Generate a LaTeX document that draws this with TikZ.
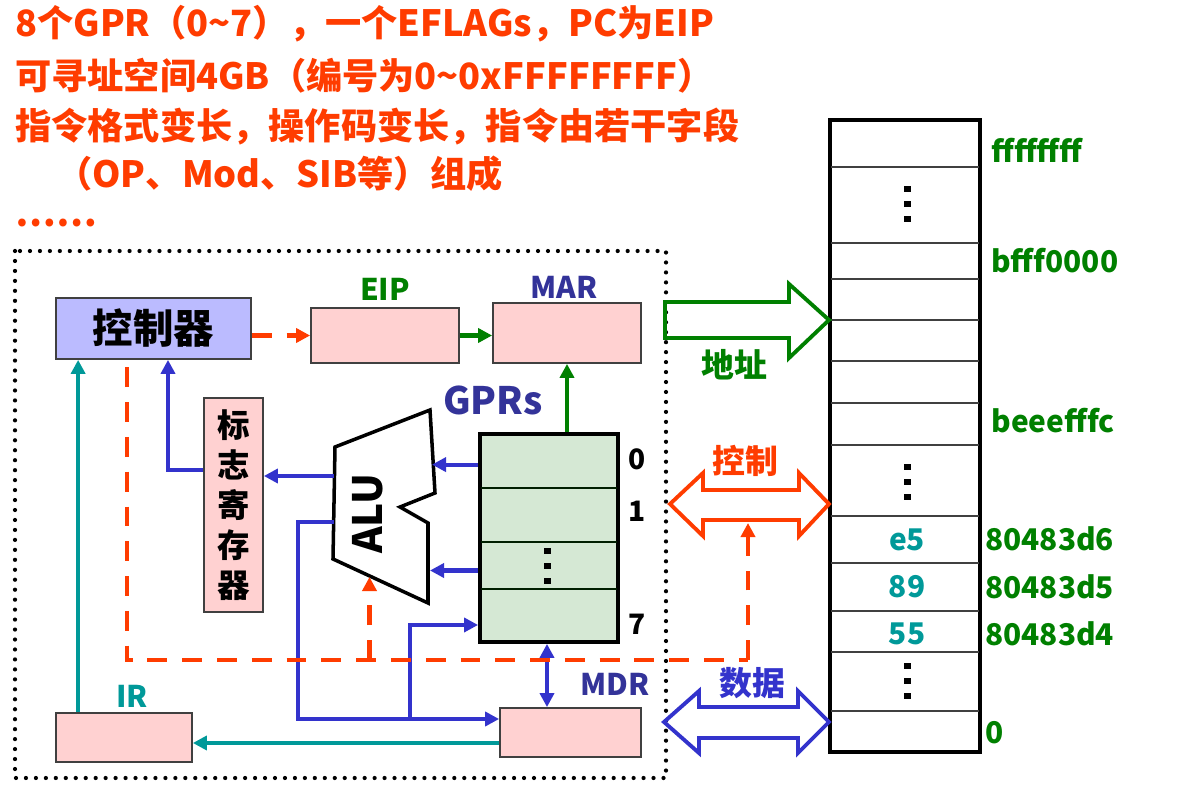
\documentclass[tikz,border=0pt]{standalone}
\usepackage{fontspec}
\setmainfont{Noto Sans CJK SC}
\usetikzlibrary{arrows.meta,calc}
\definecolor{tred}{RGB}{255,60,0}
\definecolor{tgreen}{RGB}{0,128,0}
\definecolor{tblue}{RGB}{51,51,204}
\definecolor{lblue}{RGB}{51,51,153}
\definecolor{tteal}{RGB}{0,153,153}
\definecolor{pinkf}{RGB}{255,209,209}
\definecolor{lavf}{RGB}{187,187,255}
\definecolor{gprf}{RGB}{213,232,212}
\tikzset{
  title/.style={anchor=base west, inner sep=0pt, text=tred, font=\fontsize{20.6}{24}\selectfont\bfseries},
  box/.style={draw=black!75, line width=1pt, fill=pinkf, inner sep=0pt},
  lbl/.style={inner sep=0pt, font=\fontsize{17}{20}\selectfont\bfseries},
  tip/.style={-{Triangle[length=8pt,width=8pt]}},
  bluearrow/.style={tip, draw=tblue, line width=2.3pt},
  greenarrow/.style={tip, draw=tgreen, line width=2.3pt},
  tealarrow/.style={tip, draw=tteal, line width=2.3pt},
  reddash/.style={draw=tred, line width=2.4pt, dash pattern=on 11.3pt off 8.5pt},
  vdot/.pic={\fill (-3.5,-18) rectangle (3.5,-12); \fill (-3.5,-3) rectangle (3.5,3); \fill (-3.5,12) rectangle (3.5,18);}
}
\begin{document}
\begin{tikzpicture}[x=0.02cm,y=-0.02cm]
\useasboundingbox (0,0) rectangle (1181,787);
\fill[white] (0,0) rectangle (1181,787);

% title lines
\node[title] (t1) at (15,37) {8个GPR（0\textasciitilde 7），一个EFLAGs，PC为EIP};
\node[title] (t2) at (15,90) {可寻址空间4GB（编号为0\textasciitilde 0xFFFFFFFF）};
\node[title] (t3) at (15,139.5) {指令格式变长，操作码变长，指令由若干字段};
\node[title] (t4) at (56,188) {（OP、Mod、SIB等）组成};
\node[title] (t5) at (15,227) {……};

% CPU dotted frame
\draw[line width=2.4pt, line cap=round, dash pattern=on 0pt off 5.67pt] (15,251) rectangle (666,778);

% boxes
\node[box, fill=lavf, minimum width=3.9cm, minimum height=1.22cm, font=\fontsize{23}{26}\selectfont\bfseries] (ctrl) at (153.5,328.5) {控制器};
\node[box, minimum width=2.96cm, minimum height=1.1cm] (eip) at (385,335.5) {};
\node[box, minimum width=2.96cm, minimum height=1.2cm] (mar) at (567,333) {};
\node[box, minimum width=1.18cm, minimum height=4.28cm, align=center, font=\fontsize{18.5}{22.7}\selectfont\bfseries] (flag) at (233.5,505) {标\\志\\寄\\存\\器};
\node[box, minimum width=2.82cm, minimum height=0.98cm] (mdr) at (570.5,732.5) {};
\node[box, minimum width=2.72cm, minimum height=0.98cm] (ir) at (124,737.5) {};
\node[draw=black, line width=2.2pt, fill=gprf, minimum width=2.76cm, minimum height=4.16cm, inner sep=0pt] (gpr) at (549,538) {};
\draw[draw=black!70!green!40!black, line width=1.1pt] (481,488) -- (617,488) (481,542) -- (617,542) (481,589) -- (617,589);
\pic at (547,566) {vdot};

% labels
\node[lbl, text=tgreen] (leip) at (385,289) {EIP};
\node[lbl, text=lblue] (lmar) at (564,287) {MAR};
\node[lbl, text=lblue, font=\fontsize{21.5}{24}\selectfont\bfseries] (lgpr) at (493,400) {GPRs};
\node[lbl, text=lblue] (lmdr) at (615,684) {MDR};
\node[lbl, text=tteal] (lir) at (132,696) {IR};
\node[lbl, font=\fontsize{16}{18}\selectfont\bfseries] (r0) at (637.5,459) {0};
\node[lbl, font=\fontsize{16}{18}\selectfont\bfseries] (r1) at (637.5,511) {1};
\node[lbl, font=\fontsize{16}{18}\selectfont\bfseries] (r7) at (637.5,624) {7};

% ALU
\coordinate (a1) at (335,447); \coordinate (a2) at (430,410); \coordinate (a3) at (435,493);
\coordinate (a4) at (400,507); \coordinate (a5) at (428,523); \coordinate (a6) at (428,603);
\coordinate (a7) at (333,559);
\draw[line width=2pt, fill=white, line join=miter] (a1) -- (a2) -- (a3) -- (a4) -- (a5) -- (a6) -- (a7) -- cycle;
\node[lbl, rotate=90, font=\fontsize{23}{26}\selectfont\bfseries] (alu) at (368,514) {ALU};
\coordinate (aluL1) at (334,476);
\coordinate (aluL2) at (334,522);
\coordinate (aluR1) at (432,464.6);
\coordinate (aluR2) at (430,570.5);
\coordinate (aluB) at (369.5,577);

% connectors
\draw[reddash, tip] (ctrl.east |- eip.west) -- (eip.west);
\draw[greenarrow] (eip.east) -- (mar.west |- eip.east);
\draw[greenarrow] (mar.south |- gpr.north) -- (mar.south);
\draw[bluearrow] (gpr.west |- aluR1) -- (aluR1);
\draw[bluearrow] (gpr.west |- aluR2) -- (aluR2);
\draw[bluearrow] (aluL1) -- (aluL1 -| flag.east);
\coordinate (fl) at ([yshift=0.7cm]flag.west);
\draw[bluearrow] (fl) -| ([xshift=0.29cm]ctrl.south);
\coordinate (irT) at ([xshift=0.46cm]ir.north west);
\draw[tealarrow] (irT) -- (irT |- ctrl.south);
\coordinate (bl) at (298,719);
\draw[bluearrow] (aluL2) -| (bl) -- (bl -| mdr.west);
\coordinate (br) at (410,719);
\coordinate (g7) at ([yshift=-1.74cm]gpr.west);
\draw[bluearrow] (br) |- (g7);
\draw[draw=tblue, line width=2.3pt, {Triangle[length=8pt,width=8pt]}-{Triangle[length=8pt,width=8pt]}] (gpr.south -| 547,0) -- (mdr.north -| 547,0);
\draw[tealarrow] ([yshift=-0.21cm]mdr.west) -- ([yshift=-0.21cm]mdr.west -| ir.east);

% control dashed lines
\coordinate (c0) at ([xshift=-0.53cm, yshift=-0.15cm]ctrl.south);
\coordinate (hline) at (748,660);
\coordinate (ctlbot) at (748,523);
\draw[reddash] (c0) |- (hline);
\draw[reddash, tip] (hline) -- (ctlbot);
\draw[reddash, tip] (aluB |- hline) -- (aluB);

% memory
\draw[line width=2pt] (830,120) rectangle (980,752);
\foreach \yy in {167,243,279,320,361,403,445,516,563,611,652,711}
  \draw[black!75, line width=0.9pt] (831,\yy) -- (979,\yy);
\pic at (907,204) {vdot};
\pic at (907,482) {vdot};
\pic at (907,681) {vdot};
\node[lbl, text=tteal] (ve5) at (907,540) {e5};
\node[lbl, text=tteal] (v89) at (907,587) {89};
\node[lbl, text=tteal] (v55) at (907,634) {55};
\node[lbl, text=tgreen, anchor=west] (m1) at (991,150) {ffffffff};
\node[lbl, text=tgreen, anchor=west] (m2) at (991,261) {bfff0000};
\node[lbl, text=tgreen, anchor=west] (m3) at (991,421) {beeefffc};
\node[lbl, text=tgreen, anchor=west] (m4) at (985,539) {80483d6};
\node[lbl, text=tgreen, anchor=west] (m5) at (985,587) {80483d5};
\node[lbl, text=tgreen, anchor=west] (m6) at (985,634) {80483d4};
\node[lbl, text=tgreen, anchor=west] (m7) at (985,733) {0};

% bus arrows
\draw[tgreen, line width=2.2pt, line join=miter] (665,302) -- (789,302) -- (789,284) -- (829,320) -- (789,358) -- (789,338) -- (665,338) -- cycle;
\draw[tred, line width=2.2pt, line join=miter] (670,504) -- (703,473) -- (703,490) -- (799,490) -- (799,473) -- (829,504) -- (799,536) -- (799,520) -- (703,520) -- (703,536) -- cycle;
\draw[tblue, line width=2.2pt, line join=miter] (664,722) -- (699,691) -- (699,707) -- (798,707) -- (798,691) -- (829,722) -- (798,753) -- (798,738) -- (699,738) -- (699,753) -- cycle;
\node[lbl, text=tgreen, font=\fontsize{18.7}{22}\selectfont\bfseries] (laddr) at (734,365) {地址};
\node[lbl, text=tred, font=\fontsize{18.7}{22}\selectfont\bfseries] (lctl) at (745,461) {控制};
\node[lbl, text=tblue, font=\fontsize{18.7}{22}\selectfont\bfseries] (ldata) at (752,683) {数据};
\end{tikzpicture}
\end{document}
